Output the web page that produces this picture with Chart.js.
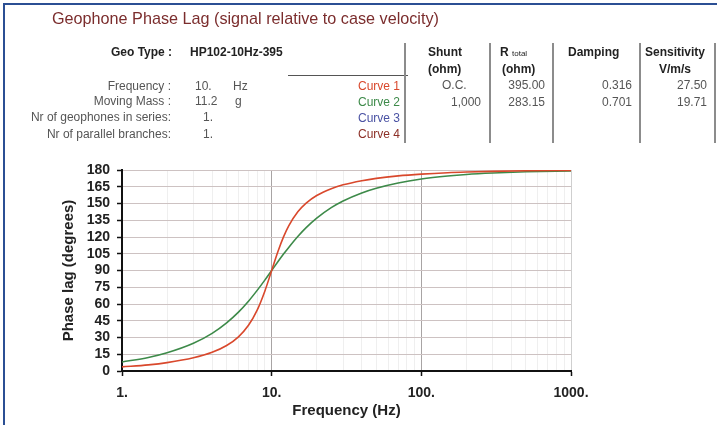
<!DOCTYPE html>
<html>
<head>
<meta charset="utf-8">
<script src="https://cdn.jsdelivr.net/npm/chart.js@4/dist/chart.umd.min.js"></script>
<style>
  body { margin: 0; background: #fff; font-family: "Liberation Sans", Arial, sans-serif; }
  #page { position: relative; width: 719px; height: 425px; overflow: hidden; }
  #chartCanvas { position: absolute; left: 0; top: 0; }
  .t { position: absolute; white-space: nowrap; font-size: 12px; line-height: 14px; color: #555; }
  .b { font-weight: bold; color: #222; }
  .r { text-align: right; }
  .vline { position: absolute; width: 1.5px; background: #8c8c8c; top: 43px; height: 100px; }
</style>
</head>
<body>
<div id="page">
  <canvas id="chartCanvas" width="719" height="425"></canvas>
  <!-- frame -->
  <div style="position:absolute;left:3px;top:3px;width:2px;height:430px;background:#2b4f94"></div>
  <div style="position:absolute;left:3px;top:3px;width:714px;height:2px;background:#2b4f94"></div>

  <div class="t" style="left:52px;top:9px;font-size:16.2px;line-height:18px;color:#7b2d2d">Geophone Phase Lag (signal relative to case velocity)</div>

  <div class="t b" style="left:111px;top:45px">Geo Type :</div>
  <div class="t b" style="left:190px;top:45px">HP102-10Hz-395</div>

  <div class="t r" style="right:548px;top:79px">Frequency :</div>
  <div class="t r" style="right:548px;top:94px">Moving Mass :</div>
  <div class="t r" style="right:548px;top:110px">Nr of geophones in series:</div>
  <div class="t r" style="right:548px;top:127px">Nr of parallel branches:</div>
  <div class="t" style="left:195px;top:79px">10.</div>
  <div class="t" style="left:195px;top:94px">11.2</div>
  <div class="t" style="left:203px;top:110px">1.</div>
  <div class="t" style="left:203px;top:127px">1.</div>
  <div class="t" style="left:233px;top:79px">Hz</div>
  <div class="t" style="left:235px;top:94px">g</div>

  <div style="position:absolute;left:288px;top:75px;width:120px;height:1px;background:#555"></div>
  <div class="t r" style="right:319px;top:79px;color:#d9482c">Curve 1</div>
  <div class="t r" style="right:319px;top:95px;color:#3d8a49">Curve 2</div>
  <div class="t r" style="right:319px;top:111px;color:#4a52a3">Curve 3</div>
  <div class="t r" style="right:319px;top:127px;color:#8c2f26">Curve 4</div>

  <div class="vline" style="left:404px"></div>
  <div class="vline" style="left:489px"></div>
  <div class="vline" style="left:552px"></div>
  <div class="vline" style="left:639px"></div>
  <div class="vline" style="left:714px"></div>

  <div class="t b" style="left:428px;top:45px">Shunt</div>
  <div class="t b" style="left:428px;top:62px">(ohm)</div>
  <div class="t b" style="left:500px;top:45px">R <span style="font-size:8px;font-weight:normal">total</span></div>
  <div class="t b" style="left:502px;top:62px">(ohm)</div>
  <div class="t b" style="left:568px;top:45px">Damping</div>
  <div class="t b" style="left:645px;top:45px">Sensitivity</div>
  <div class="t b" style="left:659px;top:62px">V/m/s</div>

  <div class="t" style="left:442px;top:78px">O.C.</div>
  <div class="t r" style="right:238px;top:95px">1,000</div>
  <div class="t r" style="right:174px;top:78px">395.00</div>
  <div class="t r" style="right:174px;top:95px">283.15</div>
  <div class="t r" style="right:87px;top:78px">0.316</div>
  <div class="t r" style="right:87px;top:95px">0.701</div>
  <div class="t r" style="right:12px;top:78px">27.50</div>
  <div class="t r" style="right:12px;top:95px">19.71</div>
</div>

<script>
// frequencies (Hz) and phase lag (degrees)
const freqs = [1, 1.5, 2, 3, 4, 5, 6, 7, 8, 9, 10, 11, 12, 13, 15, 17, 20, 25, 30, 40, 50, 70, 100, 150, 200, 300, 500, 1000];
const curve1Phase = [3.7, 5.5, 7.5, 11.8, 16.7, 22.8, 30.6, 40.9, 54.5, 71.5, 90, 106.8, 120.1, 130.0, 142.8, 150.4, 157.2, 163.3, 166.7, 170.4, 172.5, 174.7, 176.3, 177.6, 178.2, 178.8, 179.3, 179.6];
const curve2Phase = [8.1, 12.1, 16.3, 24.8, 33.7, 43.1, 52.7, 62.5, 72.2, 81.4, 90, 97.8, 104.7, 110.7, 120.7, 128.4, 136.9, 146.3, 152.3, 159.5, 163.7, 168.4, 171.9, 174.6, 176.0, 177.3, 178.4, 179.2];
// x grid positions: decades plus the 2..9 subdivisions
const xTickValues = [1, 2, 3, 4, 5, 6, 7, 8, 9, 10, 20, 30, 40, 50, 60, 70, 80, 90, 100, 200, 300, 400, 500, 600, 700, 800, 900, 1000];
const decadeLabels = { 1: "1.", 10: "10.", 100: "100.", 1000: "1000." };

const toPoints = (ys) => freqs.map((f, i) => ({ x: f, y: ys[i] }));
const isDecade = (v) => decadeLabels[v] !== undefined;

const chart = new Chart(document.getElementById("chartCanvas"), {
  type: "line",
  data: {
    datasets: [
      { label: "Curve 1", data: toPoints(curve1Phase), borderColor: "#d9482c", borderWidth: 1.6, pointRadius: 0, cubicInterpolationMode: "monotone" },
      { label: "Curve 2", data: toPoints(curve2Phase), borderColor: "#3d8a49", borderWidth: 1.6, pointRadius: 0, cubicInterpolationMode: "monotone" },
    ],
  },
  options: {
    responsive: false,
    animation: false,
    layout: { padding: { left: 0, top: 170, right: 148, bottom: 0 } },
    plugins: { legend: { display: false }, tooltip: { enabled: false } },
    scales: {
      x: {
        type: "logarithmic",
        min: 1,
        max: 1000,
        afterBuildTicks: (scale) => { scale.ticks = xTickValues.map((v) => ({ value: v })); },
        afterFit: (scale) => { scale.height = 54; },
        border: { color: "#111", width: 2 },
        grid: {
          color: (ctx) => {
            const v = ctx.tick && ctx.tick.value;
            if (v === 1) return "rgba(0,0,0,0)";
            if (v === 10 || v === 100) return "#a8a4a4";
            if (v === 1000) return "#cfcfcf";
            return "#efefef";
          },
          tickColor: (ctx) => (ctx.tick && isDecade(ctx.tick.value) ? "#111" : "rgba(0,0,0,0)"),
          tickLength: 5,
          tickWidth: 1.5,
        },
        ticks: {
          autoSkip: false,
          maxRotation: 0,
          padding: 9,
          color: "#222",
          font: { family: "Liberation Sans", size: 14, weight: "bold" },
          callback: (v) => decadeLabels[v] || "",
        },
        title: {
          display: true,
          text: "Frequency (Hz)",
          color: "#222",
          padding: { top: 0, bottom: 5 },
          font: { family: "Liberation Sans", size: 15, weight: "bold" },
        },
      },
      y: {
        min: 0,
        max: 180,
        afterFit: (scale) => { scale.width = 122; },
        border: { color: "#111", width: 2 },
        grid: {
          color: (ctx) => (ctx.tick && ctx.tick.value === 0 ? "rgba(0,0,0,0)" : "#cdc2c2"),
          tickColor: "#111",
          tickLength: 5,
          tickWidth: 1.5,
        },
        ticks: {
          stepSize: 15,
          autoSkip: false,
          padding: 7,
          color: "#222",
          font: { family: "Liberation Sans", size: 14, weight: "bold" },
        },
        title: {
          display: true,
          text: "Phase lag (degrees)",
          color: "#222",
          padding: { top: 60, bottom: 0 },
          font: { family: "Liberation Sans", size: 15, weight: "bold" },
        },
      },
    },
  },
});
</script>
</body>
</html>
